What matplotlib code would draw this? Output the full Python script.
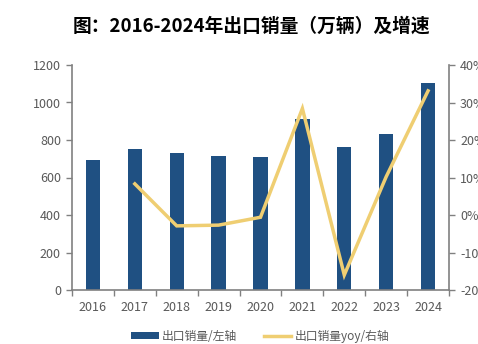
import matplotlib.pyplot as plt
from matplotlib.lines import Line2D
from matplotlib.patches import Patch
from matplotlib.ticker import FuncFormatter, MultipleLocator, FixedLocator

plt.rcParams['font.family'] = ['Noto Sans CJK SC', 'DejaVu Sans']

# 出口销量（万辆）及同比增速（%）
years = ['2016', '2017', '2018', '2019', '2020', '2021', '2022', '2023', '2024']
sales = [693, 752, 732, 713, 709, 910, 765, 832, 1102]
yoy_years = years[1:]
yoy = [8.3, -2.9, -2.7, -0.6, 28.4, -16.0, 10.2, 33.1]

bar_color = '#1F5082'
line_color = '#EFCE72'
axis_color = '#808080'
text_color = '#595959'

fig = plt.figure(figsize=(4.78, 3.44), dpi=100)
ax = fig.add_axes([72 / 478, 1 - 290 / 344, 377 / 478, 225 / 344])
ax2 = ax.twinx()

x = list(range(len(years)))
ax.bar(x, sales, width=0.34, color=bar_color, zorder=2)
ax2.plot([years.index(y) for y in yoy_years], yoy, color=line_color, lw=2.5,
         solid_joinstyle='miter', zorder=3)

ax.set_xlim(-0.5, len(years) - 0.5)
ax.set_ylim(0, 1200)
ax.yaxis.set_major_locator(MultipleLocator(200))
ax2.set_ylim(-20, 40)
ax2.yaxis.set_major_locator(MultipleLocator(10))
ax2.yaxis.set_major_formatter(FuncFormatter(lambda v, p: f'{v:.0f}%'))

# year labels at bar centres, tick marks between categories
ax.set_xticks(x)
ax.set_xticklabels(years)
ax.xaxis.set_minor_locator(FixedLocator([i - 0.5 for i in range(len(years) + 1)]))
ax.tick_params(axis='x', which='major', length=0, pad=8)
ax.tick_params(axis='x', which='minor', length=4, color=axis_color, width=1)

for a in (ax, ax2):
    for s in a.spines.values():
        s.set_color(axis_color)
        s.set_linewidth(1.2)
    a.spines['top'].set_visible(False)
    a.tick_params(colors=text_color, labelsize=9)
ax.spines['right'].set_visible(False)
ax2.spines['left'].set_visible(False)
ax2.spines['bottom'].set_visible(False)
ax.tick_params(axis='y', length=4, color=axis_color, width=1, pad=4)
ax2.tick_params(axis='y', length=4, color=axis_color, width=1, pad=4)

fig.text(0.527, 0.925, '图：2016-2024年出口销量（万辆）及增速', ha='center', va='center',
         fontsize=13.5, fontweight='bold', color='black')

handles = [Patch(facecolor=bar_color, edgecolor='none'),
           Line2D([0], [0], color=line_color, lw=2.5)]
fig.legend(handles, ['出口销量/左轴', '出口销量yoy/右轴'], loc='center',
           bbox_to_anchor=(0.545, 0.023), ncol=2, frameon=False, fontsize=8.5,
           labelcolor=text_color, handlelength=2.3, handleheight=0.5,
           handletextpad=0.3, columnspacing=2.3)

fig.savefig('out.png', dpi=100)
